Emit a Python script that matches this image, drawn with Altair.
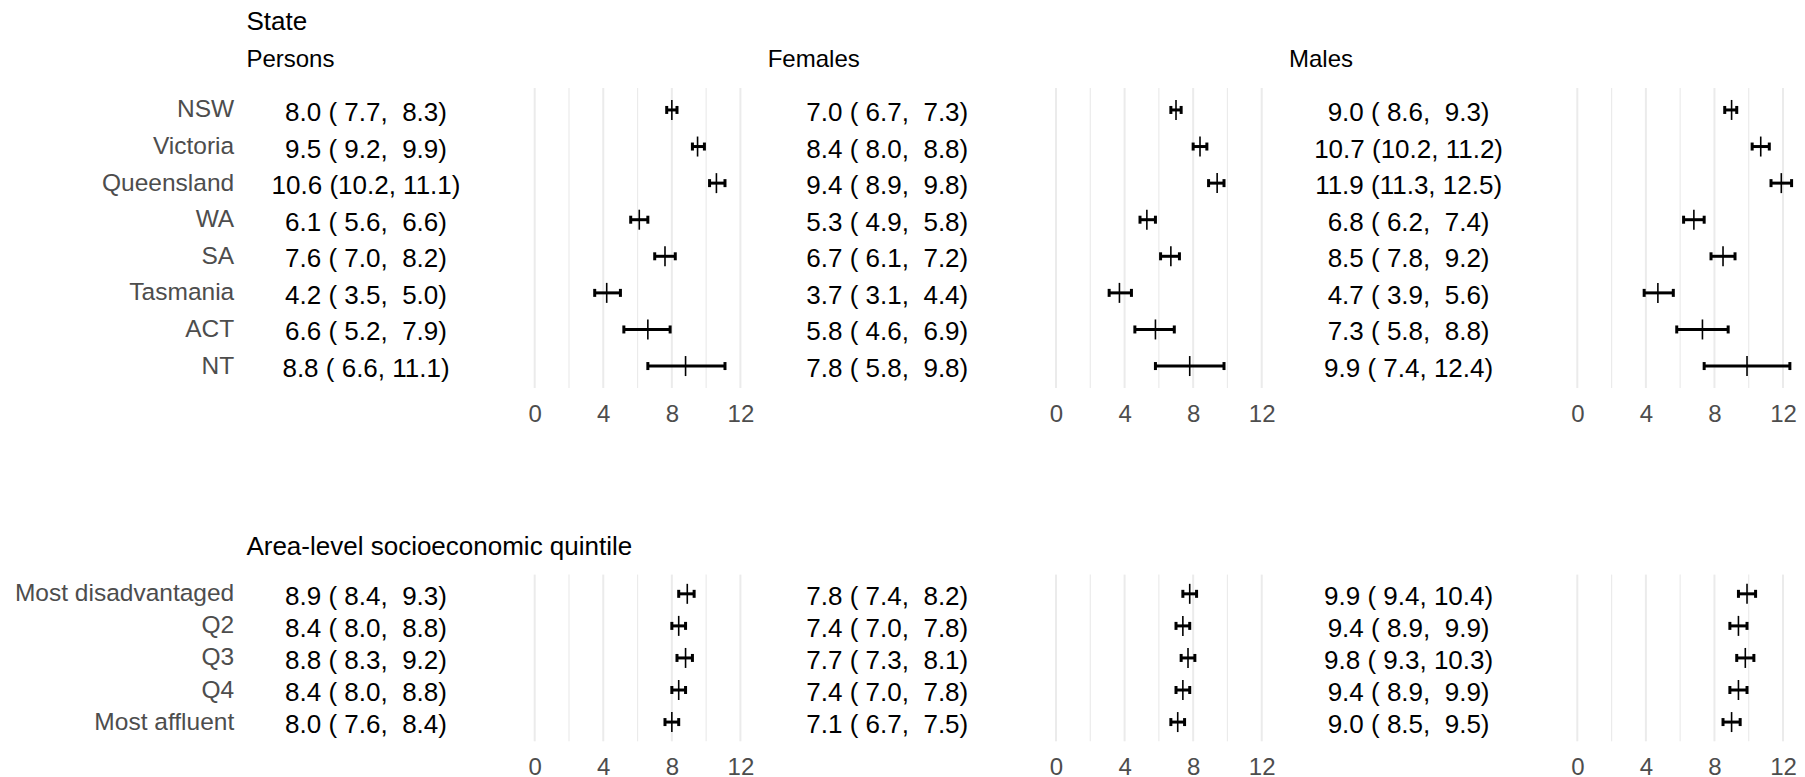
import altair as alt
import pandas as pd

FONT = "Liberation Sans"
GRID = "#EBEBEB"
GREY = "#4D4D4D"

# ---- data -----------------------------------------------------------------
state_cats = ["NSW", "Victoria", "Queensland", "WA", "SA", "Tasmania", "ACT", "NT"]
state_persons_est = [8.0, 9.5, 10.6, 6.1, 7.6, 4.2, 6.6, 8.8]
state_persons_lo = [7.7, 9.2, 10.2, 5.6, 7.0, 3.5, 5.2, 6.6]
state_persons_hi = [8.3, 9.9, 11.1, 6.6, 8.2, 5.0, 7.9, 11.1]
state_females_est = [7.0, 8.4, 9.4, 5.3, 6.7, 3.7, 5.8, 7.8]
state_females_lo = [6.7, 8.0, 8.9, 4.9, 6.1, 3.1, 4.6, 5.8]
state_females_hi = [7.3, 8.8, 9.8, 5.8, 7.2, 4.4, 6.9, 9.8]
state_males_est = [9.0, 10.7, 11.9, 6.8, 8.5, 4.7, 7.3, 9.9]
state_males_lo = [8.6, 10.2, 11.3, 6.2, 7.8, 3.9, 5.8, 7.4]
state_males_hi = [9.3, 11.2, 12.5, 7.4, 9.2, 5.6, 8.8, 12.4]

ses_cats = ["Most disadvantaged", "Q2", "Q3", "Q4", "Most affluent"]
ses_persons_est = [8.9, 8.4, 8.8, 8.4, 8.0]
ses_persons_lo = [8.4, 8.0, 8.3, 8.0, 7.6]
ses_persons_hi = [9.3, 8.8, 9.2, 8.8, 8.4]
ses_females_est = [7.8, 7.4, 7.7, 7.4, 7.1]
ses_females_lo = [7.4, 7.0, 7.3, 7.0, 6.7]
ses_females_hi = [8.2, 7.8, 8.1, 7.8, 7.5]
ses_males_est = [9.9, 9.4, 9.8, 9.4, 9.0]
ses_males_lo = [9.4, 8.9, 9.3, 8.9, 8.5]
ses_males_hi = [10.4, 9.9, 10.3, 9.9, 9.5]

x_major = [0, 4, 8, 12]
x_minor = [2, 6, 10]
x_domain = [-0.625, 13.125]

PANEL_W = 235.7
TEXT_X = -158
TITLE_DX = -277.6


def fmt(e, l, h):
    return ("%4.1f (%4.1f, %4.1f)" % (e, l, h)).replace(" ", "\u00a0")


def panel(cats, est, lo, hi, height, title=None, show_y=False):
    df = pd.DataFrame({
        "cat": cats, "est": est, "lo": lo, "hi": hi,
        "label": [fmt(e, l, h) for e, l, h in zip(est, lo, hi)],
    })
    xs = alt.Scale(domain=x_domain, nice=False, zero=False)
    ys = alt.Scale(type="point", domain=cats, padding=0.6)

    xaxis = alt.Axis(values=x_major, grid=False, domain=False, ticks=False,
                     labelFontSize=24, labelColor=GREY, labelFont=FONT,
                     labelPadding=14, format="d")
    if show_y:
        yaxis = alt.Axis(domain=False, ticks=False, grid=False,
                         labelPadding=290.3, labelFontSize=24.5, labelColor=GREY,
                         labelFont=FONT, labelLimit=500)
    else:
        yaxis = None

    def X(f):
        return alt.X(f, scale=xs, axis=xaxis, title=None)

    def Y():
        return alt.Y("cat:N", scale=ys, axis=yaxis, title=None)

    minor = alt.Chart(pd.DataFrame({"v": x_minor})).mark_rule(
        color=GRID, strokeWidth=1.2).encode(x=X("v:Q"))
    major = alt.Chart(pd.DataFrame({"v": x_major})).mark_rule(
        color=GRID, strokeWidth=2).encode(x=X("v:Q"))
    bar = alt.Chart(df).mark_rule(color="black", strokeWidth=3).encode(
        x=X("lo:Q"), x2="hi:Q", y=Y())
    caps = alt.Chart(df).transform_fold(["lo", "hi"], as_=["k", "v"]).mark_tick(
        color="black", thickness=3, size=8, opacity=1).encode(x=X("v:Q"), y=Y())
    center = alt.Chart(df).mark_tick(
        color="black", thickness=1.6, size=20, opacity=1).encode(x=X("est:Q"), y=Y())
    text = alt.Chart(df).mark_text(
        align="center", baseline="middle", fontSize=26, font=FONT,
        color="black", dy=3).encode(x=alt.value(TEXT_X), y=Y(), text="label:N")

    props = dict(width=PANEL_W, height=height)
    if title is not None:
        props["title"] = title
    return alt.layer(minor, major, bar, caps, center, text).properties(**props)


def sub_title(txt):
    return alt.Title(txt, anchor="start", frame="group", dx=TITLE_DX, offset=15,
                     fontSize=24, font=FONT, color="black", fontWeight="normal",
                     baseline="top")


t_state = alt.Title("State", subtitle="Persons", anchor="start", frame="group",
                    dx=TITLE_DX, offset=15, fontSize=26, font=FONT, color="black",
                    fontWeight="normal", baseline="top", subtitleFontSize=24,
                    subtitleFont=FONT, subtitleColor="black", subtitlePadding=13,
                    subtitleFontWeight="normal")
t_ses = alt.Title("Area-level socioeconomic quintile", anchor="start", frame="group",
                  dx=TITLE_DX, offset=13.3, fontSize=26, font=FONT, color="black",
                  fontWeight="normal", baseline="top")

TOP_H = 300
BOT_H = 166.7

charts = [
    panel(state_cats, state_persons_est, state_persons_lo, state_persons_hi, TOP_H, t_state, True),
    panel(state_cats, state_females_est, state_females_lo, state_females_hi, TOP_H, sub_title("Females")),
    panel(state_cats, state_males_est, state_males_lo, state_males_hi, TOP_H, sub_title("Males")),
    panel(ses_cats, ses_persons_est, ses_persons_lo, ses_persons_hi, BOT_H, t_ses, True),
    panel(ses_cats, ses_females_est, ses_females_lo, ses_females_hi, BOT_H),
    panel(ses_cats, ses_males_est, ses_males_lo, ses_males_hi, BOT_H),
]

chart = alt.concat(*charts, columns=3, spacing={"row": 186.6, "column": 285.3},
                   bounds="flush").properties(
    padding={"left": 14, "top": 9, "right": 0, "bottom": 0},
    background="white",
).configure_view(stroke=None)

chart.save("out.html", embed_options={"renderer": "svg", "actions": False})
